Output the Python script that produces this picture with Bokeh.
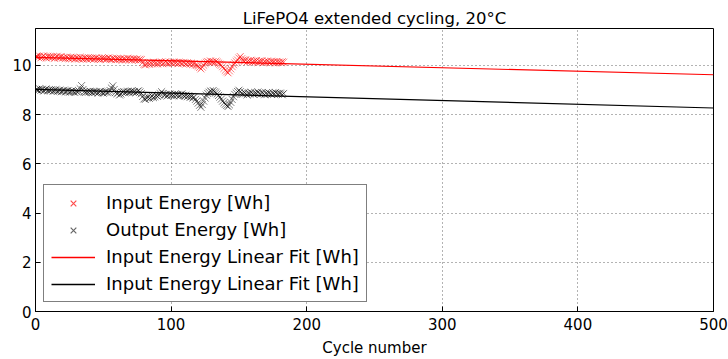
from bokeh.plotting import figure
from bokeh.models import Range1d, FixedTicker, Legend, LegendItem
from bokeh.embed import file_html
from bokeh.resources import INLINE

# ---- data ----
cycles = list(range(1, 184))
input_energy = [
    10.36, 10.33, 10.38, 10.31, 10.35, 10.39, 10.34, 10.30, 10.37, 10.33,
    10.35, 10.32, 10.36, 10.29, 10.34, 10.37, 10.31, 10.33, 10.35, 10.30,
    10.32, 10.28, 10.34, 10.30, 10.27, 10.33, 10.29, 10.31, 10.26, 10.32,
    10.30, 10.27, 10.33, 10.28, 10.25, 10.31, 10.29, 10.26, 10.32, 10.28,
    10.27, 10.30, 10.25, 10.29, 10.31, 10.26, 10.28, 10.24, 10.30, 10.27,
    10.29, 10.25, 10.28, 10.31, 10.26, 10.24, 10.29, 10.27, 10.23, 10.28,
    10.26, 10.24, 10.28, 10.22, 10.27, 10.25, 10.23, 10.29, 10.24, 10.26,
    10.22, 10.27, 10.25, 10.23, 10.26, 10.21, 10.25, 10.23, 10.12, 10.04,
    10.02, 10.06, 10.09, 10.05, 10.11, 10.07, 10.13, 10.08, 10.10, 10.06,
    10.12, 10.09, 10.14, 10.07, 10.11, 10.15, 10.10, 10.08, 10.13, 10.11,
    10.09, 10.14, 10.10, 10.12, 10.07, 10.13, 10.11, 10.08, 10.12, 10.10,
    10.06, 10.11, 10.08, 10.05, 10.09, 10.04, 10.07, 10.02, 10.00, 9.97,
    9.92, 9.86, 9.93, 10.01, 10.08, 10.13, 10.16, 10.12, 10.18, 10.14,
    10.15, 10.11, 10.17, 10.13, 10.09, 10.05, 10.01, 9.95, 9.88, 9.80,
    9.74, 9.70, 9.78, 9.86, 9.95, 10.03, 10.10, 10.16, 10.22, 10.30,
    10.36, 10.27, 10.21, 10.17, 10.23, 10.14, 10.19, 10.16, 10.21, 10.13,
    10.18, 10.15, 10.20, 10.12, 10.17, 10.14, 10.19, 10.11, 10.16, 10.13,
    10.18, 10.14, 10.11, 10.17, 10.13, 10.15, 10.10, 10.16, 10.12, 10.14,
    10.11, 10.15, 10.13,
]
output_energy = [
    9.02, 8.98, 9.05, 8.99, 9.03, 8.96, 9.01, 9.04, 8.97, 9.00,
    8.98, 9.02, 8.95, 8.99, 9.01, 8.94, 8.97, 9.00, 8.93, 8.96,
    8.99, 8.92, 8.95, 8.98, 8.91, 8.94, 8.97, 8.93, 8.90, 8.95,
    8.92, 8.96, 9.05, 9.18, 9.02, 8.93, 8.90, 8.94, 8.91, 8.95,
    8.92, 8.89, 8.94, 8.91, 8.93, 8.88, 8.92, 8.95, 8.90, 8.87,
    8.91, 8.94, 8.89, 8.92, 8.98, 9.08, 9.17, 9.02, 8.90, 8.85,
    8.88, 8.80, 8.84, 8.91, 8.94, 8.89, 8.92, 8.95, 8.90, 8.93,
    8.96, 8.91, 8.94, 8.89, 8.93, 8.97, 8.92, 8.85, 8.74, 8.64,
    8.62, 8.68, 8.72, 8.66, 8.70, 8.75, 8.69, 8.73, 8.78, 8.74,
    8.80, 8.85, 8.93, 8.86, 8.79, 8.82, 8.76, 8.80, 8.84, 8.78,
    8.81, 8.77, 8.83, 8.79, 8.82, 8.76, 8.80, 8.84, 8.78, 8.75,
    8.79, 8.73, 8.77, 8.70, 8.74, 8.68, 8.71, 8.62, 8.55, 8.47,
    8.38, 8.30, 8.41, 8.55, 8.68, 8.79, 8.86, 8.91, 8.96, 8.92,
    8.98, 8.93, 8.89, 8.84, 8.78, 8.71, 8.63, 8.55, 8.48, 8.42,
    8.37, 8.33, 8.40, 8.50, 8.62, 8.73, 8.82, 8.88, 8.94, 8.99,
    8.93, 8.87, 8.83, 8.90, 8.85, 8.80, 8.88, 8.84, 8.91, 8.86,
    8.82, 8.89, 8.85, 8.92, 8.87, 8.83, 8.90, 8.86, 8.81, 8.88,
    8.84, 8.89, 8.85, 8.82, 8.88, 8.84, 8.90, 8.86, 8.83, 8.87,
    8.85, 8.81, 8.86,
]
fit_cycles = [0, 500]
input_fit = [10.33, 9.62]
output_fit = [9.03, 8.27]

x_ticks = [0, 100, 200, 300, 400, 500]
y_ticks = [0, 2, 4, 6, 8, 10]

FONT = "DejaVu Sans"

p = figure(width=728, height=359, output_backend="svg", toolbar_location=None,
           x_range=Range1d(0, 500), y_range=Range1d(0, 11.5),
           min_border_left=35, min_border_right=15, min_border_top=28,
           min_border_bottom=48)
p.background_fill_color = "white"
p.border_fill_color = "white"
p.outline_line_color = "black"
p.outline_line_width = 1

p.title.text = "LiFePO4 extended cycling, 20°C"
p.title.align = "center"
p.title.text_font = FONT
p.title.text_font_size = "16.5px"
p.title.text_font_style = "normal"
p.title.text_color = "black"
p.title.standoff = 2
p.title.offset = 0

for ax in (p.xaxis, p.yaxis):
    ax.major_label_text_font = FONT
    ax.major_label_text_font_size = "15px"
    ax.major_label_text_color = "black"
    ax.axis_line_color = "black"
    ax.major_tick_line_color = "black"
    ax.major_tick_in = 5
    ax.major_tick_out = 0
    ax.minor_tick_line_color = None
    ax.axis_label_text_font = FONT
    ax.axis_label_text_font_size = "15px"
    ax.axis_label_text_font_style = "normal"
    ax.axis_label_text_color = "black"

p.xaxis.ticker = FixedTicker(ticks=x_ticks)
p.yaxis.ticker = FixedTicker(ticks=y_ticks)
p.xaxis.axis_label = "Cycle number"
p.xaxis.major_label_standoff = 6
p.xaxis.axis_label_standoff = 6
p.yaxis.major_label_standoff = 4

p.grid.grid_line_color = "black"
p.grid.grid_line_dash = "1 3"
p.grid.grid_line_alpha = 0.6
p.xgrid.ticker = FixedTicker(ticks=x_ticks)
p.ygrid.ticker = FixedTicker(ticks=y_ticks)

p.scatter(cycles, input_energy, marker="x", size=10, line_color="red",
          line_alpha=0.5, line_width=1)
p.scatter(cycles, output_energy, marker="x", size=10, line_color="black",
          line_alpha=0.5, line_width=1)
p.line(fit_cycles, input_fit, line_color="#ff0000", line_width=1.2)
p.line(fit_cycles, output_fit, line_color="#000000", line_width=1.2)

# legend-bearing proxies: markers re-draw the first data point,
# single-point lines draw nothing on the plot but give the legend swatch
leg_in = p.scatter(cycles[:1], input_energy[:1], marker="x", size=9,
                   line_color="#ff0000", line_alpha=0.7, line_width=1.2)
leg_out = p.scatter(cycles[:1], output_energy[:1], marker="x", size=9,
                    line_color="#000000", line_alpha=0.6, line_width=1.2)
leg_fit_in = p.line(fit_cycles[:1], input_fit[:1], line_color="#ff0000",
                    line_width=1.6)
leg_fit_out = p.line(fit_cycles[:1], output_fit[:1], line_color="#000000",
                     line_width=1.4)

legend = Legend(items=[
    LegendItem(label="Input Energy [Wh]", renderers=[leg_in]),
    LegendItem(label="Output Energy [Wh]", renderers=[leg_out]),
    LegendItem(label="Input Energy Linear Fit [Wh]", renderers=[leg_fit_in]),
    LegendItem(label="Input Energy Linear Fit [Wh]", renderers=[leg_fit_out]),
], location=(8, 9))
legend.label_text_font = FONT
legend.label_text_font_size = "18px"
legend.label_text_color = "black"
legend.border_line_color = "black"
legend.border_line_width = 1
legend.background_fill_alpha = 1.0
legend.padding = 7
legend.spacing = 6
legend.margin = 0
legend.glyph_width = 44
legend.glyph_height = 20
legend.label_height = 20
legend.label_standoff = 11
p.add_layout(legend, "center")

open("out.html", "w").write(file_html(p, INLINE))
